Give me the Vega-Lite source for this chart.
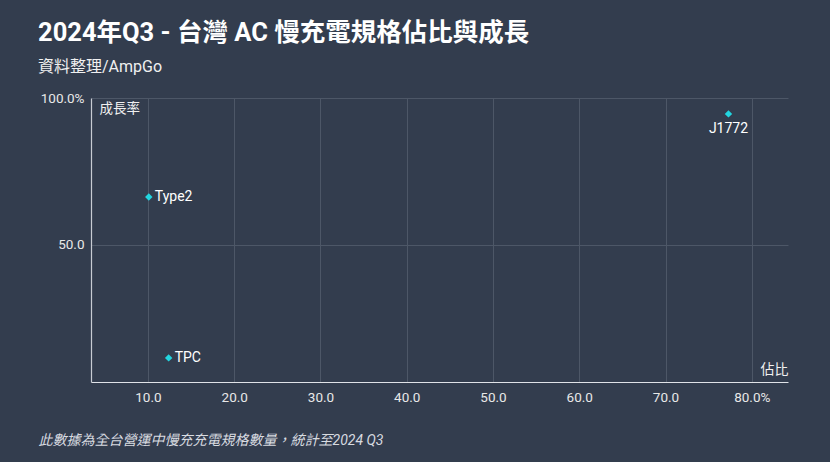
{
  "$schema": "https://vega.github.io/schema/vega-lite/v6.json",
  "width": 697,
  "height": 284,
  "autosize": {"type": "none"},
  "padding": {"left": 91, "top": 98, "right": 42, "bottom": 80},
  "background": "#333d4e",
  "config": {
    "view": {"stroke": null},
    "font": "Roboto, Noto Sans CJK TC, sans-serif"
  },
  "title": {
    "text": "2024年Q3 - 台灣 AC 慢充電規格佔比與成長",
    "subtitle": "資料整理/AmpGo",
    "anchor": "start",
    "frame": "group",
    "dx": -53,
    "offset": 16,
    "fontSize": 25.5,
    "fontWeight": "bold",
    "color": "#ffffff",
    "subtitleFontSize": 16,
    "subtitleColor": "#f0f0f0",
    "subtitlePadding": 13,
    "font": "Roboto, Noto Sans CJK TC, sans-serif",
    "subtitleFont": "Roboto, Noto Sans CJK TC, sans-serif"
  },
  "data": {
    "values": [
      {"name": "Type2", "share": 10.1, "growth": 66.3},
      {"name": "TPC", "share": 12.4, "growth": 11.6},
      {"name": "J1772", "share": 77.3, "growth": 94.6}
    ]
  },
  "resolve": {"axis": {"x": "independent"}},
  "layer": [
    {
      "mark": {"type": "point", "shape": "diamond", "filled": true, "color": "#22d6e0", "size": 55, "opacity": 1},
      "encoding": {
        "x": {
          "field": "share", "type": "quantitative",
          "scale": {"domain": [3.4, 84.2], "nice": false, "zero": false},
          "axis": {
            "values": [10, 20, 30, 40, 50, 60, 70, 80],
            "labelExpr": "datum.value == 80 ? '80.0%' : format(datum.value, '.1f')",
            "labelColor": "#e8e8e8", "labelFontSize": 13.5, "labelPadding": 8,
            "ticks": false,
            "domainColor": "#e0e3e8", "domainWidth": 1.2,
            "grid": true, "gridColor": "#4d5767", "gridWidth": 1,
            "title": "佔比", "titleColor": "#f0f0f0", "titleFontSize": 14, "titleFontWeight": "normal",
            "titleX": 697, "titleY": -6, "titleAlign": "right", "titleBaseline": "bottom"
          }
        },
        "y": {
          "field": "growth", "type": "quantitative",
          "scale": {"domain": [3.4, 100], "nice": false, "zero": false},
          "axis": {
            "values": [50, 100],
            "labelExpr": "datum.value == 100 ? '100.0%' : format(datum.value, '.1f')",
            "labelColor": "#e8e8e8", "labelFontSize": 13.5, "labelPadding": 7,
            "ticks": false,
            "domainColor": "#c8ccd3", "domainWidth": 1.2,
            "grid": true, "gridColor": "#4d5767", "gridWidth": 1,
            "title": "成長率", "titleColor": "#f0f0f0", "titleFontSize": 13.5, "titleFontWeight": "normal",
            "titleAngle": 0, "titleX": 8, "titleY": 3, "titleAlign": "left", "titleBaseline": "top"
          }
        }
      }
    },
    {
      "transform": [{"filter": "datum.name != 'J1772'"}],
      "mark": {"type": "text", "align": "left", "baseline": "middle", "dx": 6, "fontSize": 14, "color": "#ffffff"},
      "encoding": {
        "x": {"field": "share", "type": "quantitative",
          "axis": {"orient": "bottom", "labels": false, "ticks": false, "domain": false, "grid": false,
            "title": "此數據為全台營運中慢充充電規格數量，統計至2024 Q3",
            "titleColor": "#d8dbe0", "titleFontSize": 14, "titleFontStyle": "italic", "titleFontWeight": "normal",
            "titleX": -53, "titleY": 58, "titleAlign": "left", "titleBaseline": "middle"}},
        "y": {"field": "growth", "type": "quantitative"},
        "text": {"field": "name"}
      }
    },
    {
      "transform": [{"filter": "datum.name == 'J1772'"}],
      "mark": {"type": "text", "align": "center", "baseline": "top", "dy": 8, "fontSize": 14, "color": "#ffffff"},
      "encoding": {
        "x": {"field": "share", "type": "quantitative", "axis": null},
        "y": {"field": "growth", "type": "quantitative"},
        "text": {"field": "name"}
      }
    }
  ]
}
